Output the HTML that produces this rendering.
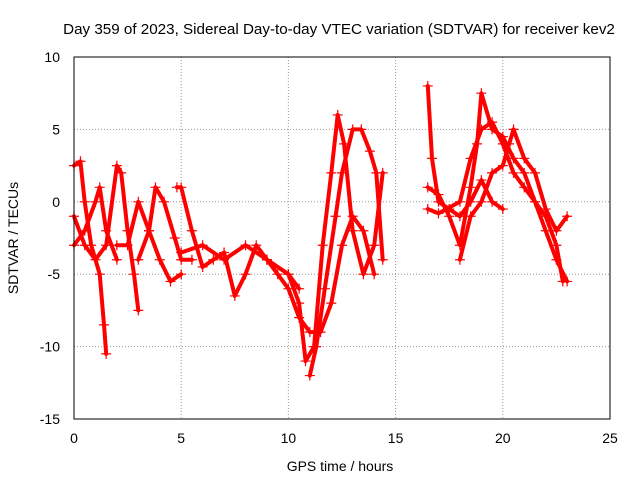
<!DOCTYPE html>
<html><head><meta charset="utf-8"><style>
body{margin:0;background:#fff;}
svg{display:block;font-family:"Liberation Sans",sans-serif;}
</style></head><body>
<svg id="chart" width="640" height="480" viewBox="0 0 640 480">
<text x="339" y="34" font-size="15.2" text-anchor="middle">Day 359 of 2023, Sidereal Day-to-day VTEC variation (SDTVAR) for receiver kev2</text>
<g id="grid"></g>
<g id="ticks"></g>
<g id="series"></g>
<rect x="74" y="57" width="536" height="362" fill="none" stroke="#000" stroke-width="1"/>
<text x="340" y="471" font-size="14" text-anchor="middle">GPS time / hours</text>
<text x="18" y="238" font-size="14" text-anchor="middle" transform="rotate(-90 18 238)">SDTVAR / TECUs</text>
</svg>
<script>
const xTicks=[0,5,10,15,20,25];
const yTicks=[-15,-10,-5,0,5,10];
const trackTimes=[
[0,0.3,0.5,0.8,1.2,1.4,1.5],
[0,0.5,1,1.5,2,2.2,2.5,2.8,3],
[0,0.5,1,1.2,1.5,2],
[2,2.5,3,3.5,4,4.5,5],
[3,3.5,3.8,4.2,4.7,5,5.5],
[4.8,5,5.5,6,6.5,7,7.5,8,8.5,9],
[5,6,7,8,9,10,10.5],
[9,9.5,10,10.5,11,11.5,12,12.5,13,13.5,14],
[10,10.5,10.8,11.2,11.6,12,12.3,12.6,13,13.5,14,14.4],
[11,11.3,11.7,12.2,12.5,13,13.4,13.8,14.1,14.4],
[16.5,16.7,17,17.5,18,18.5,19,19.5,20],
[16.5,17,17.5,18,18.5,18.8,19,19.5,20,20.5,21,21.5,22,22.5,23],
[16.5,17,18,18.5,19,19.5,20,20.5,21,21.5,22,22.5,22.8],
[18,18.5,19,19.5,20,20.3,20.5,21,21.5,22,22.5,23]
];
const trackValues=[
[2.5,2.8,0,-3,-5,-8.5,-10.5],
[-1,-3,-4,-3,2.5,2,-2,-5,-7.5],
[-3,-2,0,1,-2,-4],
[-3,-3,0,-2,-4,-5.5,-5],
[-4,-2,1,0,-2.5,-4,-4],
[1,1,-2,-4.5,-4,-3.5,-6.5,-5,-3,-4],
[-3.5,-3,-4,-3,-4,-5,-6],
[-4,-5,-6,-8,-9,-9,-7,-3,-1,-2,-5],
[-5,-7,-11,-10,-3,2,6,4,-2,-5,-3,2],
[-12,-10,-6,-1,2,5,5,3.5,2,-4],
[8,3,0,-0.5,-1,0,1.5,0,-0.5],
[1,0.5,-1,-3,1,4,7.5,5,4.5,3,2,0,-2,-4,-5.5],
[-0.5,-0.8,0,3,5,5.5,4,2,1,0,-1,-3,-5.5],
[-4,-1,0,2,2.5,4,5,3,2,-0.5,-2,-1]
];
const NS="http://www.w3.org/2000/svg";
const X0=74,X1=610,Y0=419,Y1=57;
function xs(v){return X0+(v-0)/(25-0)*(X1-X0);}
function ys(v){return Y0-(v+15)/(10+15)*(Y0-Y1);}
const grid=document.getElementById('grid'),ticks=document.getElementById('ticks'),ser=document.getElementById('series');
xTicks.forEach(t=>{
 const x=xs(t);
 if(t>0&&t<25){const l=document.createElementNS(NS,'line');
 
 
 l.setAttribute('x1',x);l.setAttribute('x2',x);l.setAttribute('y1',Y1);l.setAttribute('y2',Y0);
 l.setAttribute('stroke','#999');l.setAttribute('stroke-dasharray','1,2');grid.appendChild(l);}
 const tx=document.createElementNS(NS,'text');
 
 
 tx.setAttribute('x',x);tx.setAttribute('y',Y0+24);tx.setAttribute('font-size','14');tx.setAttribute('text-anchor','middle');
 tx.textContent=t;ticks.appendChild(tx);
});
yTicks.forEach(t=>{
 const y=ys(t);
 if(t>-15&&t<10){const l=document.createElementNS(NS,'line');
 
 
 l.setAttribute('x1',X0);l.setAttribute('x2',X1);l.setAttribute('y1',y);l.setAttribute('y2',y);
 l.setAttribute('stroke','#999');l.setAttribute('stroke-dasharray','1,2');grid.appendChild(l);}
 const tx=document.createElementNS(NS,'text');
 
 
 tx.setAttribute('x',X0-14);tx.setAttribute('y',y+5);tx.setAttribute('font-size','14');tx.setAttribute('text-anchor','end');
 tx.textContent=t;ticks.appendChild(tx);
});
trackTimes.forEach((times,i)=>{
 const vals=trackValues[i];
 const d=times.map((t,j)=>(j?'L':'M')+xs(t).toFixed(1)+' '+ys(vals[j]).toFixed(1)).join(' ');
 const p=document.createElementNS(NS,'path');
 
 
 p.setAttribute('d',d);p.setAttribute('fill','none');p.setAttribute('stroke','#f00');
 p.setAttribute('stroke-width','4');p.setAttribute('stroke-linejoin','round');p.setAttribute('stroke-linecap','round');
 ser.appendChild(p);
 times.forEach((t,j)=>{
  const x=xs(t),y=ys(vals[j]);
  const m=document.createElementNS(NS,'path');
  
  
  m.setAttribute('d',`M${x-5} ${y}H${x+5}M${x} ${y-5}V${y+5}`);
  m.setAttribute('stroke','#f00');m.setAttribute('stroke-width','1.2');
  ser.appendChild(m);
 });
});
</script>
</body></html>
